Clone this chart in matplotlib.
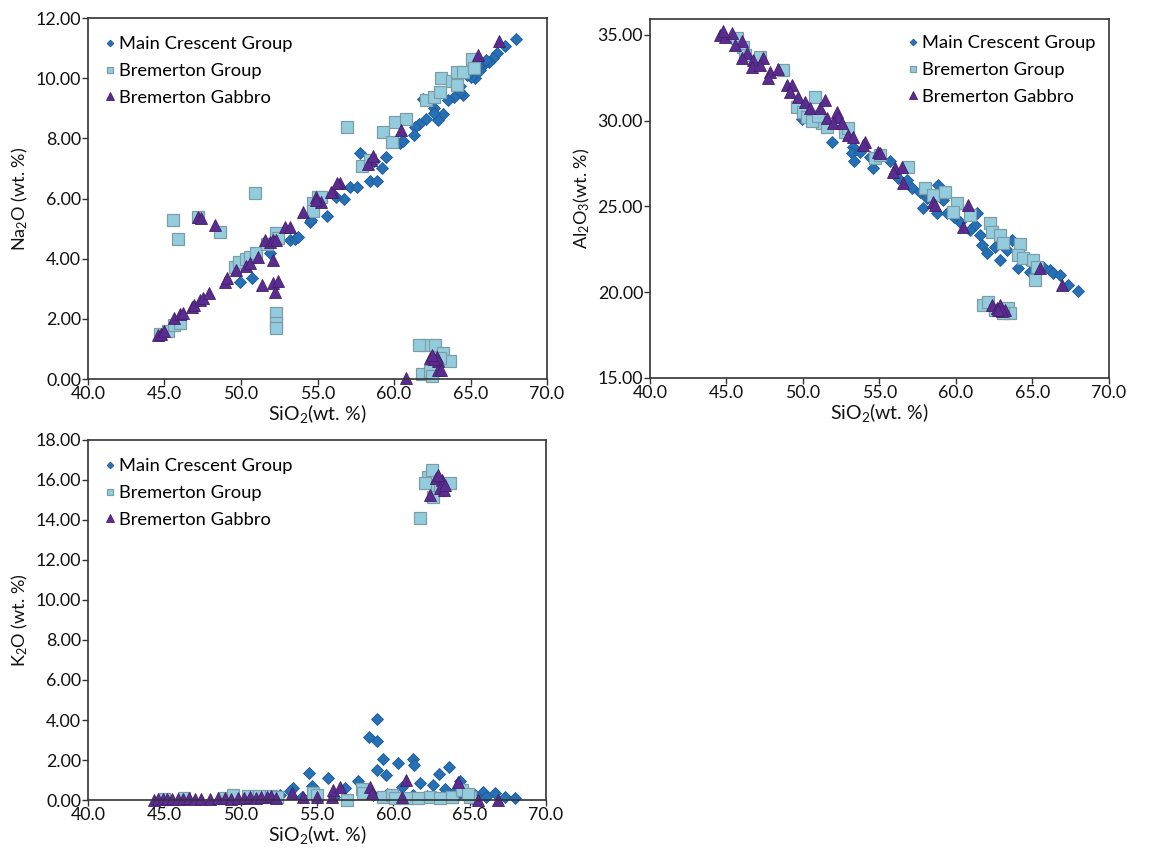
import matplotlib
matplotlib.use("Agg")
import matplotlib.pyplot as plt
from matplotlib.ticker import FormatStrFormatter, MultipleLocator

plt.rcParams['font.family'] = ['Lato', 'DejaVu Sans']
plt.rcParams['mathtext.fontset'] = 'custom'
plt.rcParams['mathtext.rm'] = 'Lato'
plt.rcParams['mathtext.it'] = 'Lato'

series_names = ["Main Crescent Group", "Bremerton Group", "Bremerton Gabbro"]

# ---------------- Panel 1: Na2O vs SiO2 ----------------
mcg_na2o = [(67.97, 11.30), (67.25, 11.08), (66.70, 10.83), (66.50, 10.66), (66.20, 10.55),
            (65.80, 10.44), (65.60, 10.27), (65.30, 10.00), (65.00, 10.05), (66.00, 10.60),
            (65.50, 10.40), (64.80, 10.10), (64.00, 9.90), (64.50, 9.44), (64.30, 9.55),
            (64.30, 9.75), (63.90, 9.39), (63.50, 9.28), (63.20, 8.81), (62.90, 8.61),
            (62.60, 9.00), (62.60, 8.83), (61.90, 9.31), (62.10, 8.64), (61.60, 8.48),
            (61.40, 8.37), (61.30, 8.11), (60.40, 7.86), (60.60, 7.90), (59.50, 7.37),
            (59.20, 7.00), (58.70, 7.25), (57.80, 7.50), (58.40, 6.59), (58.90, 6.57),
            (57.10, 6.39), (57.60, 6.39), (56.70, 6.00), (56.20, 6.04), (55.60, 5.43),
            (54.50, 5.23), (54.60, 5.30), (53.20, 4.62), (53.50, 4.66), (53.75, 4.71),
            (51.90, 4.18), (50.70, 3.35), (49.93, 3.24)]
bg_na2o = [(45.58, 5.29), (45.90, 4.64), (50.90, 6.20), (48.60, 4.90), (47.20, 5.40),
           (52.30, 2.18), (52.30, 1.85), (52.30, 1.68), (44.70, 1.50), (45.20, 1.60),
           (45.60, 1.80), (46.00, 1.85), (49.60, 3.73), (49.90, 3.90), (50.30, 4.00),
           (50.60, 4.05), (51.00, 4.20), (52.30, 4.84), (52.40, 4.70), (51.70, 4.50),
           (54.70, 5.84), (54.70, 5.60), (55.00, 6.06), (56.90, 8.37), (59.26, 8.22),
           (59.85, 7.87), (60.07, 8.53), (60.80, 8.64), (57.90, 7.09), (58.40, 7.28),
           (55.20, 6.06), (62.10, 9.28), (62.60, 9.36), (63.00, 9.55), (63.10, 10.02),
           (63.80, 9.92), (64.10, 10.20), (64.50, 10.20), (65.07, 10.64), (65.20, 10.33),
           (64.10, 9.77), (62.13, 1.13), (62.68, 1.13), (61.60, 1.13), (63.20, 0.85),
           (63.66, 0.60), (61.80, 0.17), (62.35, 0.28), (62.50, 0.10), (63.00, 0.70)]
gab_na2o = [(66.86, 11.25), (65.50, 10.77), (60.46, 8.28), (58.50, 7.28), (58.30, 7.15),
            (58.60, 7.40), (56.47, 6.50), (56.00, 6.23), (55.20, 5.90), (47.20, 5.40),
            (47.40, 5.35), (48.30, 5.12), (44.60, 1.46), (44.80, 1.50), (45.00, 1.60),
            (45.60, 2.02), (46.00, 2.15), (46.20, 2.19), (46.80, 2.38), (46.90, 2.45),
            (47.30, 2.63), (47.50, 2.70), (47.90, 2.87), (48.95, 3.24), (49.10, 3.35),
            (49.70, 3.62), (50.30, 3.75), (50.60, 3.85), (51.10, 4.07), (51.60, 4.62),
            (51.90, 4.55), (52.10, 4.62), (52.30, 4.62), (52.90, 5.06), (53.20, 5.06),
            (52.07, 3.96), (51.40, 3.12), (52.10, 3.18), (52.40, 3.27), (52.20, 2.90),
            (54.07, 5.56), (54.90, 6.06), (54.90, 5.95), (55.90, 6.23), (56.30, 6.50),
            (62.35, 0.69), (62.80, 0.74), (62.90, 0.60), (62.60, 0.65), (62.90, 0.30),
            (63.10, 0.30), (60.78, 0.05), (62.50, 0.80)]

# ---------------- Panel 2: Al2O3 vs SiO2 ----------------
mcg_al2o3 = [(49.96, 30.10), (51.92, 28.74), (53.29, 28.49), (53.18, 28.10), (53.73, 28.20),
             (53.33, 27.67), (54.38, 27.91), (54.60, 27.23), (55.69, 27.67), (56.23, 26.64),
             (56.78, 26.55), (57.10, 26.06), (57.65, 25.87), (58.08, 25.48), (57.82, 24.89),
             (58.84, 26.25), (58.74, 24.60), (59.17, 25.38), (59.39, 24.60), (60.26, 24.12),
             (61.35, 24.60), (61.24, 23.92), (61.57, 23.34), (61.68, 22.76), (62.00, 22.27),
             (62.55, 22.66), (62.88, 21.88), (63.64, 23.05), (64.07, 21.39), (64.84, 21.20),
             (65.71, 21.49), (66.14, 21.30), (66.36, 21.10), (66.80, 21.00), (67.34, 20.42),
             (67.99, 20.09), (63.31, 22.46), (64.62, 21.88), (60.90, 23.60), (59.90, 24.40)]
bg_al2o3 = [(45.66, 34.81), (46.10, 34.32), (46.21, 33.83), (47.19, 33.74), (48.71, 32.96),
            (49.59, 30.82), (50.02, 30.53), (50.78, 31.40), (50.24, 30.24), (51.22, 29.85),
            (51.55, 29.66), (52.75, 29.36), (52.96, 29.56), (54.71, 27.81), (55.03, 28.00),
            (56.88, 27.32), (57.97, 26.06), (58.52, 25.67), (59.28, 25.87), (60.04, 25.19),
            (59.82, 24.70), (60.92, 24.50), (62.22, 24.02), (62.33, 23.53), (62.88, 23.34),
            (63.09, 22.85), (64.18, 22.81), (64.07, 22.17), (64.40, 21.98), (65.05, 21.88),
            (65.27, 21.49), (65.16, 20.71), (50.60, 30.00), (51.00, 30.30),
            (61.79, 19.26), (62.11, 19.45), (62.55, 18.97), (63.42, 19.06), (63.53, 18.77),
            (63.09, 18.77)]
gab_al2o3 = [(44.57, 35.00), (44.90, 34.86), (45.34, 35.10), (44.80, 35.20), (45.99, 34.67),
             (45.56, 34.42), (46.32, 33.93), (45.99, 33.64), (46.75, 33.54), (47.41, 33.64),
             (46.65, 33.15), (47.19, 33.25), (47.84, 32.86), (47.73, 32.47), (48.39, 33.00),
             (48.93, 32.08), (49.26, 32.08), (49.15, 31.70), (49.70, 31.40), (50.13, 31.11),
             (50.46, 30.72), (51.11, 30.72), (51.44, 31.21), (51.55, 30.14), (52.20, 30.53),
             (52.31, 30.24), (51.98, 29.85), (52.53, 29.85), (52.96, 29.17), (53.29, 29.07),
             (54.05, 28.78), (53.94, 28.59), (54.92, 28.20), (55.03, 28.10), (56.01, 27.23),
             (56.45, 27.32), (55.90, 27.03), (56.56, 26.35), (58.52, 25.28), (58.63, 25.09),
             (60.80, 25.09), (60.48, 23.82), (65.49, 21.39), (66.90, 20.42),
             (62.33, 19.25), (62.66, 19.10), (62.88, 19.25), (63.20, 18.97), (62.99, 18.90),
             (62.77, 18.95)]

# ---------------- Panel 3: K2O vs SiO2 ----------------
mcg_k2o = [(58.95, 4.03), (58.43, 3.17), (58.90, 2.97), (59.30, 2.05), (60.33, 1.87),
           (61.27, 2.05), (61.35, 1.75), (58.90, 1.50), (59.52, 1.23), (63.64, 1.67),
           (62.97, 1.28), (54.50, 1.33), (55.70, 1.08), (57.70, 0.95), (61.75, 0.87),
           (54.65, 0.70), (53.45, 0.62), (56.83, 0.62), (60.54, 0.67), (62.62, 0.75),
           (63.38, 0.55), (64.37, 0.95), (53.23, 0.45), (65.90, 0.42), (66.66, 0.37),
           (67.31, 0.17), (68.00, 0.12), (65.35, 0.25), (66.10, 0.17), (62.18, 0.20),
           (61.30, 0.25), (65.13, 0.08), (64.26, 0.25), (58.03, 0.42), (58.69, 0.25),
           (54.98, 0.08), (53.99, 0.17), (52.60, 0.25), (56.10, 0.15), (59.60, 0.30),
           (63.90, 0.35), (60.10, 0.20)]
bg_k2o = [(45.00, 0.05), (46.30, 0.08), (48.90, 0.12), (49.52, 0.25), (50.50, 0.18),
          (51.20, 0.20), (52.00, 0.22), (52.40, 0.15), (54.76, 0.33), (54.98, 0.25),
          (56.94, 0.00), (57.92, 0.53), (58.03, 0.33), (59.34, 0.17), (59.89, 0.25),
          (60.10, 0.08), (60.87, 0.08), (62.40, 0.13), (63.06, 0.08), (63.82, 0.17),
          (64.47, 0.50), (65.02, 0.17), (61.60, 0.12), (64.90, 0.30),
          (61.74, 14.10), (62.26, 16.15), (62.50, 16.50), (62.80, 15.75), (62.07, 15.85),
          (63.05, 15.50), (63.70, 15.85), (62.60, 15.15)]
gab_k2o = [(44.30, 0.02), (44.60, 0.05), (44.90, 0.03), (45.20, 0.06), (45.50, 0.04),
           (45.90, 0.07), (46.20, 0.05), (46.60, 0.08), (47.00, 0.06), (47.40, 0.05),
           (48.00, 0.04), (48.50, 0.08), (49.00, 0.10), (49.40, 0.07), (49.80, 0.12),
           (50.20, 0.10), (50.60, 0.14), (51.00, 0.12), (51.30, 0.16), (51.70, 0.15),
           (52.00, 0.18), (52.30, 0.12), (53.34, 0.33), (54.10, 0.17), (54.98, 0.17),
           (55.96, 0.17), (56.07, 0.50), (56.50, 0.67), (58.47, 0.67), (58.58, 0.33),
           (60.83, 1.00), (60.54, 0.13), (64.26, 0.92), (65.57, 0.00), (66.88, 0.00),
           (62.40, 15.25), (62.80, 16.10), (63.18, 16.00), (63.05, 15.60), (63.30, 15.50),
           (62.90, 16.25), (63.40, 15.75)]

# styles
styles = [
    dict(marker='D', ms=6.2, mfc='#2670B5', mec='#1F5A94', mew=0.6),
    dict(marker='s', ms=8.5, mfc='#93CDDD', mec='#7C9CA6', mew=0.9),
    dict(marker='^', ms=9.2, mfc='#5B2C8F', mec='#43206B', mew=0.6),
]

fig = plt.figure(figsize=(11.5, 8.5), dpi=100)

panels = [
    dict(rect=[0.0765, 0.5541, 0.3992, 0.4247], data=[mcg_na2o, bg_na2o, gab_na2o],
         ylim=(0, 12), ystep=2, ylabel=r"Na$_2$O (wt. %)", legloc='upper left',
         bbox=(-0.005, 1.0)),
    dict(rect=[0.5652, 0.5553, 0.3991, 0.4224], data=[mcg_al2o3, bg_al2o3, gab_al2o3],
         ylim=(15, 35.93), ystep=5, ylabel=r"Al$_2$O$_3$(wt. %)", legloc='upper right',
         bbox=(1.01, 1.005)),
    dict(rect=[0.0765, 0.0588, 0.3983, 0.4236], data=[mcg_k2o, bg_k2o, gab_k2o],
         ylim=(0, 18), ystep=2, ylabel=r"K$_2$O (wt. %)", legloc='upper left',
         bbox=(-0.005, 1.0)),
]

for p in panels:
    ax = fig.add_axes(p['rect'])
    for name, pts, st in zip(series_names, p['data'], styles):
        xs = [a for a, b in pts]
        ys = [b for a, b in pts]
        ax.plot(xs, ys, ls='none', label=name, clip_on=False, **st)
    ax.set_xlim(40, 70)
    ax.set_ylim(*p['ylim'])
    ax.xaxis.set_major_locator(MultipleLocator(5))
    ax.yaxis.set_major_locator(MultipleLocator(p['ystep']))
    ax.xaxis.set_major_formatter(FormatStrFormatter('%.1f'))
    ax.yaxis.set_major_formatter(FormatStrFormatter('%.2f'))
    ax.tick_params(direction='out', length=4, width=1, color='#333333',
                   labelsize=12.8, labelcolor='#111111', pad=1)
    for s in ax.spines.values():
        s.set_color('#333333')
        s.set_linewidth(1.2)
    ax.set_xlabel(r"SiO$_2$(wt. %)", fontsize=14, labelpad=0, color='#111111')
    ax.set_ylabel(p['ylabel'], fontsize=13, labelpad=4, color='#111111')
    ax.legend(loc=p['legloc'], bbox_to_anchor=p['bbox'], frameon=False, fontsize=13.2,
              markerscale=0.55, handlelength=0.6, handletextpad=0.2, labelspacing=0.58,
              borderaxespad=0.6, numpoints=1)

fig.savefig("out.png", dpi=100)
